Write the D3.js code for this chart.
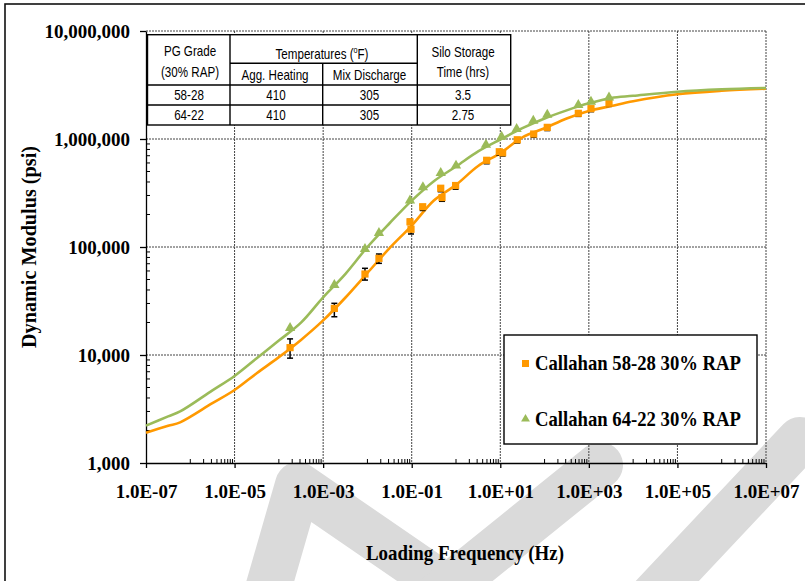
<!DOCTYPE html>
<html>
<head>
<meta charset="utf-8">
<script src="https://cdn.jsdelivr.net/npm/d3@7"></script>
<style>
  body { margin: 0; background: #fff; }
  svg text { font-family: "Liberation Serif", "Times New Roman", serif; font-weight: bold; fill: #000; }
  .tbl text { font-family: "Liberation Sans", Arial, sans-serif; font-weight: normal; font-size: 14.5px; }
  .grid line { stroke: #444; stroke-width: 1; stroke-dasharray: 2,1; }
  .axis path, .axis line { stroke: #000; stroke-width: 1.3; }
  .minor { stroke: #000; stroke-width: 1; }
</style>
</head>
<body>
<svg width="805" height="581"></svg>
<script>
// master curves
var curveFreq = [1e-7, 3.16e-7, 5.9e-7, 3.16e-6, 1e-5, 3.16e-5, 1e-4, 3.16e-4, 1e-3, 3.16e-3, 1e-2, 3.16e-2, 0.1, 0.316, 1, 3.16, 10, 31.6, 100, 316, 1000, 3162, 1e4, 1e5, 1e6, 1e7];
var curve5828 = [1910, 2210, 2380, 3580, 4740, 6780, 9550, 13800, 20900, 33900, 57500, 97700, 158000, 269000, 376000, 562000, 741000, 1035000, 1259000, 1549000, 1820000, 2018000, 2239000, 2594000, 2799000, 2924000];
var curve6422 = [2220, 2700, 3000, 4700, 6400, 9330, 13600, 19950, 34200, 56200, 100000, 166000, 269000, 407000, 556000, 767000, 989000, 1259000, 1549000, 1841000, 2138000, 2399000, 2512000, 2742000, 2884000, 2965000];

// measured points
var freq5828 = [1.79e-4, 1.79e-3, 8.8e-3, 1.82e-2, 0.0914, 0.0964, 0.177, 0.452, 0.483, 0.98, 4.93, 9.5, 11.3, 24.2, 56.8, 115, 578, 1117, 2851];
var mod5828 = [11700, 27000, 56200, 78500, 171000, 146000, 236000, 350000, 287000, 371000, 635000, 762000, 746000, 984000, 1112000, 1282000, 1730000, 1910000, 2140000];
var errHi5828 = [2400, 3100, 7300, 7600, 9000, 6000, 8000, 9000, 9000, 10000, 15000, 18000, 18000, 20000, 25000, 30000, 35000, 40000, 45000];
var errLo5828 = [2350, 4400, 6800, 7900, 9000, 14000, 18000, 25000, 22000, 28000, 45000, 55000, 50000, 65000, 75000, 85000, 110000, 120000, 135000];
var freq6422 = [1.79e-4, 1.79e-3, 8.8e-3, 1.82e-2, 0.0914, 0.179, 0.452, 1.0, 4.75, 10.7, 23.4, 55.6, 115, 578, 1117, 2851];
var mod6422 = [17400, 43500, 93800, 132000, 264000, 350000, 474000, 555000, 867000, 1028000, 1211000, 1445000, 1644000, 2022000, 2168000, 2372000];

var seriesNames = ["Callahan 58-28 30% RAP", "Callahan 64-22 30% RAP"];
var colors = ["#ff9900", "#9bbb59"];

var xTicks = [1e-7, 1e-5, 1e-3, 1e-1, 1e1, 1e3, 1e5, 1e7];
var yTicks = [1e3, 1e4, 1e5, 1e6, 1e7];

// mix table
var tableRows = [["58-28", "410", "305", "3.5"], ["64-22", "410", "305", "2.75"]];

var svg = d3.select("svg"),
    margin = {top: 31, right: 39, bottom: 118, left: 146},
    width = +svg.attr("width") - margin.left - margin.right,
    height = +svg.attr("height") - margin.top - margin.bottom;

var x = d3.scaleLog().domain([1e-7, 1e7]).range([0, width]),
    y = d3.scaleLog().domain([1e3, 1e7]).range([height, 0]);

// watermark behind everything
svg.append("g")
    .attr("class", "watermark")
  .selectAll("path")
    .data([
      [[262, 610], [298, 485], [480, 610]],
      [[420, 610], [600, 465]],
      [[640, 610], [800, 440]]
    ])
  .enter().append("path")
    .attr("d", d3.line())
    .attr("fill", "none")
    .attr("stroke", "#dadada")
    .attr("stroke-width", 46)
    .attr("stroke-linejoin", "round")
    .attr("stroke-linecap", "round");

// outer frame
svg.append("rect")
    .attr("x", 5)
    .attr("y", 4)
    .attr("width", 820)
    .attr("height", 600)
    .attr("fill", "none")
    .attr("stroke", "#111")
    .attr("stroke-width", 1.6);

var chart = svg.append("g")
    .attr("transform", "translate(" + margin.left + "," + margin.top + ")");

// gridlines
var grid = chart.append("g").attr("class", "grid");
grid.selectAll(".hgrid")
    .data(yTicks.slice(1))
  .enter().append("line")
    .attr("x1", 0)
    .attr("x2", width)
    .attr("y1", function(d) { return y(d); })
    .attr("y2", function(d) { return y(d); });
grid.selectAll(".vgrid")
    .data(xTicks.slice(1))
  .enter().append("line")
    .attr("x1", function(d) { return x(d); })
    .attr("x2", function(d) { return x(d); })
    .attr("y1", 0)
    .attr("y2", height);

// minor ticks
var xMinor = [], yMinor = [];
for (var m = -6; m <= 6; m += 2) {
  for (var k = 1; k <= 9; k++) xMinor.push(k * Math.pow(10, m));
}
for (var e = 3; e < 7; e++) {
  for (var j = 2; j <= 9; j++) yMinor.push(j * Math.pow(10, e));
}
chart.selectAll(".xminor")
    .data(xMinor)
  .enter().append("line")
    .attr("class", "minor")
    .attr("x1", function(d) { return x(d); })
    .attr("x2", function(d) { return x(d); })
    .attr("y1", height)
    .attr("y2", height - 4);
chart.selectAll(".yminor")
    .data(yMinor)
  .enter().append("line")
    .attr("class", "minor")
    .attr("x1", 0)
    .attr("x2", 4)
    .attr("y1", function(d) { return y(d); })
    .attr("y2", function(d) { return y(d); });

function fmtE(d) {
  var p = Math.round(Math.log10(d));
  return "1.0E" + (p < 0 ? "-" : "+") + d3.format("02d")(Math.abs(p));
}

// x-axis
var xAxis = chart.append("g")
    .attr("class", "x axis")
    .attr("transform", "translate(0," + height + ")")
    .call(d3.axisBottom(x).tickValues(xTicks).tickFormat(fmtE).tickSize(5).tickSizeOuter(0));
xAxis.selectAll("text")
    .attr("y", 35)
    .attr("dy", null)
    .style("font-size", "19px");

// y-axis
var yAxis = chart.append("g")
    .attr("class", "y axis")
    .call(d3.axisLeft(y).tickValues(yTicks).tickFormat(d3.format(",")).tickSize(6).tickSizeOuter(0));
yAxis.selectAll("text")
    .attr("x", -16)
    .attr("dy", "0.34em")
    .style("font-size", "19px");
xAxis.select(".domain").attr("fill", "none");
yAxis.select(".domain").attr("fill", "none");

// axis titles
svg.append("text")
    .attr("x", 465)
    .attr("y", 560)
    .attr("text-anchor", "middle")
    .attr("textLength", 198)
    .attr("lengthAdjust", "spacingAndGlyphs")
    .style("font-size", "21px")
    .text("Loading Frequency (Hz)");
svg.append("text")
    .attr("transform", "translate(36,247) rotate(-90)")
    .attr("text-anchor", "middle")
    .attr("textLength", 202)
    .attr("lengthAdjust", "spacingAndGlyphs")
    .style("font-size", "20px")
    .text("Dynamic Modulus (psi)");

// fitted curves
var line = d3.line()
    .curve(d3.curveCatmullRom.alpha(0.5))
    .x(function(d) { return x(d[0]); })
    .y(function(d) { return y(d[1]); });

[curve5828, curve6422].forEach(function(c, i) {
  chart.append("path")
      .datum(curveFreq.map(function(f, n) { return [f, c[n]]; }))
      .attr("fill", "none")
      .attr("stroke", colors[i])
      .attr("stroke-width", 2.6)
      .attr("d", line);
});

// error bars on 58-28
var bars = chart.selectAll(".err")
    .data(freq5828.map(function(f, i) { return {f: f, lo: mod5828[i] - errLo5828[i], hi: mod5828[i] + errHi5828[i]}; }))
  .enter().append("g")
    .attr("class", "err")
    .attr("stroke", "#000")
    .attr("stroke-width", 1.5);
bars.append("line")
    .attr("x1", function(d) { return x(d.f); })
    .attr("x2", function(d) { return x(d.f); })
    .attr("y1", function(d) { return y(d.lo); })
    .attr("y2", function(d) { return y(d.hi); });
bars.selectAll(".cap")
    .data(function(d) { return [[d.f, d.lo], [d.f, d.hi]]; })
  .enter().append("line")
    .attr("x1", function(d) { return x(d[0]) - 3; })
    .attr("x2", function(d) { return x(d[0]) + 3; })
    .attr("y1", function(d) { return y(d[1]); })
    .attr("y2", function(d) { return y(d[1]); });

// markers
var tri = d3.symbol().type(d3.symbolTriangle).size(46);
chart.selectAll(".sq")
    .data(freq5828)
  .enter().append("rect")
    .attr("x", function(d) { return x(d) - 3.6; })
    .attr("y", function(d, i) { return y(mod5828[i]) - 3.6; })
    .attr("width", 7.2)
    .attr("height", 7.2)
    .attr("fill", colors[0]);
chart.selectAll(".tri")
    .data(freq6422)
  .enter().append("path")
    .attr("d", tri)
    .attr("transform", function(d, i) { return "translate(" + x(d) + "," + (y(mod6422[i]) - 1) + ")"; })
    .attr("fill", colors[1]);

// legend
var legend = svg.append("g")
    .attr("transform", "translate(504,335)");
legend.append("rect")
    .attr("width", 253)
    .attr("height", 109)
    .attr("fill", "#fff")
    .attr("stroke", "#000")
    .attr("stroke-width", 1.4);
legend.append("rect")
    .attr("x", 18)
    .attr("y", 25)
    .attr("width", 7)
    .attr("height", 7)
    .attr("fill", colors[0]);
legend.append("path")
    .attr("d", d3.symbol().type(d3.symbolTriangle).size(34))
    .attr("transform", "translate(21.5,84)")
    .attr("fill", colors[1]);
legend.selectAll(".ltext")
    .data(seriesNames)
  .enter().append("text")
    .attr("x", 31)
    .attr("y", function(d, i) { return 35 + i * 55.5; })
    .attr("textLength", 206)
    .attr("lengthAdjust", "spacingAndGlyphs")
    .style("font-size", "22px")
    .text(function(d) { return d; });

// table
var tbl = svg.append("g").attr("class", "tbl");
var colX = [147.5, 230, 322.7, 417.3, 510.7],
    rowY = [34.7, 63.3, 85, 105, 125];
tbl.append("rect")
    .attr("x", colX[0])
    .attr("y", rowY[0])
    .attr("width", colX[4] - colX[0])
    .attr("height", rowY[4] - rowY[0])
    .attr("fill", "#fff")
    .attr("stroke", "#000")
    .attr("stroke-width", 1.4);
var segs = [
  [colX[1], rowY[0], colX[1], rowY[4]],
  [colX[3], rowY[0], colX[3], rowY[4]],
  [colX[2], rowY[1], colX[2], rowY[4]],
  [colX[1], rowY[1], colX[3], rowY[1]],
  [colX[0], rowY[2], colX[4], rowY[2]],
  [colX[0], rowY[3], colX[4], rowY[3]]
];
tbl.selectAll(".seg")
    .data(segs)
  .enter().append("line")
    .attr("x1", function(d) { return d[0]; })
    .attr("y1", function(d) { return d[1]; })
    .attr("x2", function(d) { return d[2]; })
    .attr("y2", function(d) { return d[3]; })
    .attr("stroke", "#000")
    .attr("stroke-width", 1.4);

function cell(cx, by, s) {
  return tbl.append("text")
      .attr("transform", "translate(" + cx + "," + by + ") scale(0.8,1)")
      .attr("text-anchor", "middle")
      .text(s);
}
cell(190, 55.5, "PG Grade");
cell(190, 77, "(30% RAP)");
var tt = cell(322, 58.5, "Temperatures (");
tt.append("tspan").attr("dy", -6).style("font-size", "9px").text("o");
tt.append("tspan").attr("dy", 6).text("F)");
cell(275, 80, "Agg. Heating");
cell(369.5, 80, "Mix Discharge");
cell(463, 57, "Silo Storage");
cell(463, 77, "Time (hrs)");
var cellX = [189, 276, 369.5, 463];
tableRows.forEach(function(r, i) {
  r.forEach(function(s, j) { cell(cellX[j], 99.5 + i * 20.5, s); });
});
</script>
</body>
</html>
